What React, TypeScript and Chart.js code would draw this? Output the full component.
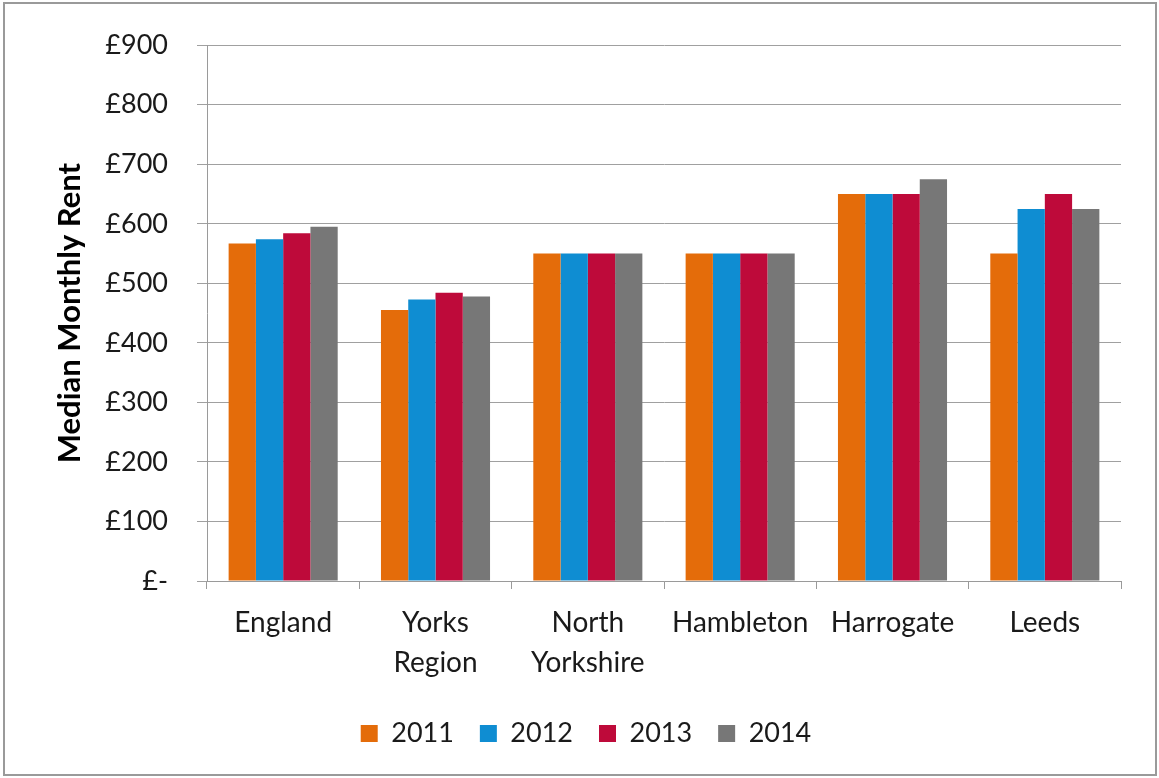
import React, { useEffect, useRef } from 'react';
import { Chart, registerables } from 'chart.js';

Chart.register(...registerables);

const categories: string[][] = [
  ['England'],
  ['Yorks', 'Region'],
  ['North', 'Yorkshire'],
  ['Hambleton'],
  ['Harrogate'],
  ['Leeds'],
];
const years = ['2011', '2012', '2013', '2014'];
const values2011 = [567, 455, 550, 550, 650, 550];
const values2012 = [574, 473, 550, 550, 650, 625];
const values2013 = [584, 484, 550, 550, 650, 650];
const values2014 = [595, 478, 550, 550, 675, 625];
const seriesColors = ['#E46C0A', '#0F8DD2', '#BE0A3A', '#777777'];
const yTickValues = [0, 100, 200, 300, 400, 500, 600, 700, 800, 900];
const yTickLabels = ['£-', '£100', '£200', '£300', '£400', '£500', '£600', '£700', '£800', '£900'];
const yTitle = 'Median Monthly Rent';

const W = 1159;
const H = 778;

const framePlugin = {
  id: 'frame',
  beforeDraw(chart: any) {
    const ctx = chart.ctx;
    ctx.save();
    ctx.fillStyle = '#ffffff';
    ctx.fillRect(0, 0, chart.width, chart.height);
    ctx.strokeStyle = '#9a9a9a';
    ctx.lineWidth = 2;
    ctx.strokeRect(4, 3, chart.width - 7, chart.height - 6);
    ctx.restore();
  },
};

export default function App() {
  const ref = useRef<HTMLCanvasElement | null>(null);

  useEffect(() => {
    document.body.style.margin = '0';
    const canvas = ref.current;
    if (!canvas) return;
    const allValues = [values2011, values2012, values2013, values2014];
    const chart = new Chart(canvas, {
      type: 'bar',
      data: {
        labels: categories,
        datasets: years.map((y, i) => ({
          label: y,
          data: allValues[i],
          backgroundColor: seriesColors[i],
          borderWidth: 0,
          categoryPercentage: 0.716,
          barPercentage: 1.0,
        })),
      },
      options: {
        responsive: false,
        animation: false,
        devicePixelRatio: 1,
        layout: { autoPadding: false, padding: { left: 51, right: 38, top: 42, bottom: 21 } },
        plugins: {
          legend: {
            position: 'bottom',
            labels: {
              boxWidth: 17,
              boxHeight: 17,
              padding: 26,
              color: '#1a1a1a',
              font: { family: 'Lato', size: 27 },
            },
          },
          tooltip: { enabled: false },
        },
        scales: {
          x: {
            grid: {
              display: true,
              drawOnChartArea: false,
              drawTicks: true,
              tickLength: 8,
              color: '#9a9a9a',
              offset: true,
            },
            border: { color: '#9a9a9a', width: 1 },
            ticks: {
              color: '#1a1a1a',
              padding: 14,
              maxRotation: 0,
              autoSkip: false,
              font: { family: 'Lato', size: 28, lineHeight: 1.43 },
            },
            afterFit(scale: any) {
              scale.height = 113;
            },
          },
          y: {
            min: 0,
            max: 900,
            afterBuildTicks(scale: any) {
              scale.ticks = yTickValues.map((v) => ({ value: v }));
            },
            grid: {
              color: '#a0a0a0',
              tickLength: 10,
              drawTicks: true,
            },
            border: { color: '#9a9a9a', width: 1 },
            ticks: {
              color: '#1a1a1a',
              padding: 29,
              font: { family: 'Lato', size: 27 },
              callback: (v: any) => {
                const idx = yTickValues.indexOf(Number(v));
                return idx >= 0 ? yTickLabels[idx] : '';
              },
            },
            title: {
              display: true,
              text: yTitle,
              color: '#000000',
              font: { family: 'Lato', size: 31, weight: 'bold' },
              padding: { top: 0, bottom: 0 },
            },
            afterFit(scale: any) {
              scale.width = 156;
            },
          },
        },
      },
      plugins: [framePlugin],
    });
    return () => chart.destroy();
  }, []);

  return (
    <div style={{ width: W, height: H }}>
      <canvas ref={ref} width={W} height={H} style={{ display: 'block' }} />
    </div>
  );
}
